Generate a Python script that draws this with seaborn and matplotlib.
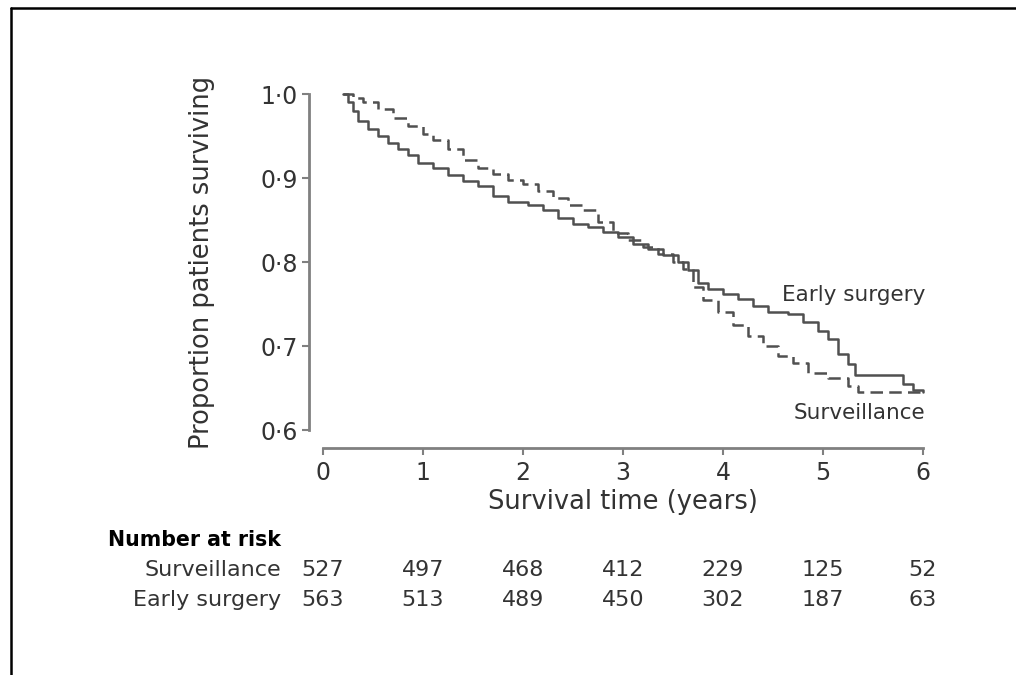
import numpy as np
import pandas as pd
import matplotlib
matplotlib.use("Agg")
import matplotlib.pyplot as plt
import matplotlib.transforms as mtransforms
from matplotlib.lines import Line2D
import seaborn as sns

# ---- data ----
surv_time = [0.20, 0.30, 0.40, 0.55, 0.70, 0.85, 1.00, 1.10, 1.25, 1.40, 1.55, 1.70,
             1.85, 2.00, 2.15, 2.30, 2.45, 2.60, 2.75, 2.90, 3.05, 3.20, 3.35, 3.50,
             3.60, 3.70, 3.80, 3.95, 4.10, 4.25, 4.40, 4.55, 4.70, 4.85, 5.05, 5.25,
             5.35, 6.00]
surv_prob = [1.000, 0.995, 0.990, 0.982, 0.972, 0.962, 0.952, 0.945, 0.935, 0.922,
             0.912, 0.905, 0.898, 0.893, 0.884, 0.876, 0.868, 0.862, 0.848, 0.835,
             0.826, 0.818, 0.810, 0.800, 0.792, 0.770, 0.755, 0.740, 0.725, 0.712,
             0.700, 0.688, 0.680, 0.668, 0.662, 0.652, 0.645, 0.645]

early_time = [0.20, 0.25, 0.30, 0.35, 0.45, 0.55, 0.65, 0.75, 0.85, 0.95, 1.10, 1.25,
              1.40, 1.55, 1.70, 1.85, 2.05, 2.20, 2.35, 2.50, 2.65, 2.80, 2.95, 3.10,
              3.25, 3.40, 3.55, 3.65, 3.75, 3.85, 4.00, 4.15, 4.30, 4.45, 4.65, 4.80,
              4.95, 5.05, 5.15, 5.25, 5.32, 5.80, 5.90, 6.00]
early_prob = [1.000, 0.990, 0.980, 0.968, 0.958, 0.950, 0.942, 0.935, 0.927, 0.918,
              0.912, 0.903, 0.897, 0.890, 0.878, 0.872, 0.868, 0.862, 0.852, 0.845,
              0.842, 0.836, 0.830, 0.822, 0.815, 0.808, 0.800, 0.790, 0.775, 0.768,
              0.762, 0.756, 0.748, 0.740, 0.738, 0.728, 0.718, 0.708, 0.690, 0.678,
              0.665, 0.655, 0.648, 0.645]

risk_times = [0, 1, 2, 3, 4, 5, 6]
risk_surveillance = [527, 497, 468, 412, 229, 125, 52]
risk_early = [563, 513, 489, 450, 302, 187, 63]

y_ticks = [0.6, 0.7, 0.8, 0.9, 1.0]
y_ticklabels = ["0·6", "0·7", "0·8", "0·9", "1·0"]
x_ticks = [0, 1, 2, 3, 4, 5, 6]

# ---- style ----
sns.set_style("white")
plt.rcParams['font.family'] = ['DejaVu Sans']
TXT = "#333333"
LINE = "#505050"
SPINE = "#808080"

df = pd.concat([
    pd.DataFrame({"time": surv_time, "surv": surv_prob, "group": "Surveillance"}),
    pd.DataFrame({"time": early_time, "surv": early_prob, "group": "Early surgery"}),
], ignore_index=True)

W, H = 1016, 675
fig = plt.figure(figsize=(W / 100, H / 100), dpi=100)
ax = fig.add_axes([323 / W, (H - 430) / H, 600 / W, 336 / H])

sns.lineplot(data=df, x="time", y="surv", style="group",
             dashes={"Surveillance": (5, 2.5), "Early surgery": ""},
             estimator=None, drawstyle="steps-post", color=LINE, linewidth=1.8,
             legend=False, ax=ax, clip_on=False)

ax.set_xlim(0, 6)
ax.set_ylim(0.6, 1.0)
ax.set_xticks(x_ticks)
ax.set_xticklabels([str(t) for t in x_ticks])
ax.set_yticks(y_ticks)
ax.set_yticklabels(y_ticklabels)

for s in ["top", "right"]:
    ax.spines[s].set_visible(False)
ax.spines["left"].set_position(("outward", 10))
ax.spines["bottom"].set_position(("outward", 13))
for s in ["left", "bottom"]:
    ax.spines[s].set_color(SPINE)
    ax.spines[s].set_linewidth(2.0)

ax.tick_params(axis="both", which="major", bottom=True, left=True,
               direction="out", length=5, width=1.5, color=SPINE,
               labelsize=17, labelcolor=TXT, pad=3)
ax.tick_params(axis="x", pad=4)

ax.set_xlabel("Survival time (years)", fontsize=18.5, color=TXT, labelpad=3)
ax.set_ylabel("Proportion patients surviving", fontsize=18.5, color=TXT, labelpad=33)

# curve labels
ax.text(6.02, 0.761, "Early surgery", ha="right", va="center", fontsize=15.5, color=TXT)
ax.text(6.02, 0.620, "Surveillance", ha="right", va="center", fontsize=15.5, color=TXT)

# number at risk table
tr = mtransforms.blended_transform_factory(ax.transData, fig.transFigure)
fig.text(108 / W, (H - 540) / H, "Number at risk", ha="left", va="center",
         fontsize=14.8, fontweight="bold", color="black")
fig.text(281 / W, (H - 570) / H, "Surveillance", ha="right", va="center",
         fontsize=16, color=TXT)
fig.text(281 / W, (H - 600) / H, "Early surgery", ha="right", va="center",
         fontsize=16, color=TXT)
for t, a, b in zip(risk_times, risk_surveillance, risk_early):
    ax.text(t, (H - 570) / H, str(a), transform=tr, ha="center", va="center",
            fontsize=16, color=TXT)
    ax.text(t, (H - 600) / H, str(b), transform=tr, ha="center", va="center",
            fontsize=16, color=TXT)

# outer frame (left and top edges)
fig.add_artist(Line2D([11 / W, 11 / W], [0, (H - 8) / H], transform=fig.transFigure,
                      color="black", linewidth=1.8))
fig.add_artist(Line2D([11 / W, 1.0], [(H - 8) / H, (H - 8) / H], transform=fig.transFigure,
                      color="black", linewidth=1.8))

fig.savefig("out.png", dpi=100)
